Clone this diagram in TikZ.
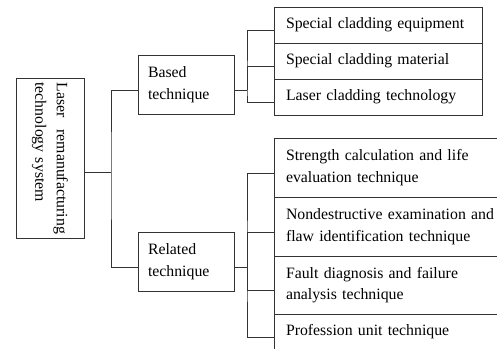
\documentclass[tikz,border=0pt]{standalone}
\usepackage{fontspec}
\setmainfont{Liberation Serif}
\usetikzlibrary{positioning}
\tikzstyle{rootbox} = [rectangle, draw=black!80, line width=1pt, outer sep=0pt, rotate=-90, minimum width=160pt, minimum height=68pt, text width=152pt, inner xsep=4pt, align=left]
\tikzstyle{midbox} = [rectangle, draw=black!80, line width=1pt, outer sep=0pt, minimum width=96pt, minimum height=59pt, text width=76pt, inner xsep=10pt, align=left]
\tikzstyle{leafbox} = [rectangle, draw=black!80, line width=1pt, outer sep=0pt, minimum width=208pt, minimum height=36pt, text width=184pt, inner xsep=12pt, align=left]
\tikzstyle{wideleaf} = [leafbox, minimum width=246pt, minimum height=59pt, text width=222pt]
\tikzstyle{line} = [draw=black!80, line width=1pt]

\begin{document}
\begin{tikzpicture}[font=\fontsize{15.8}{21.7}\selectfont]
\path[use as bounding box, clip] (0,0) rectangle (497pt,-348pt);
%树的根和两个分支
\node[rootbox] (root) at (50pt,-158.5pt) {Laser\hspace{12pt}remanufacturing\\technology system};
\node[midbox, right=54pt of root.north, yshift=74pt] (based) {Based\\technique};
\node[midbox, below=118pt of based] (related) {Related\\technique};
%叶子
\node[leafbox, right=40pt of based, yshift=59.5pt] (e1) {Special cladding equipment};
\node[leafbox, below=0pt of e1] (e2) {Special cladding material};
\node[leafbox, below=0pt of e2] (e3) {Laser cladding technology};
\node[wideleaf, below=23pt of e3.south west, anchor=north west] (f1) {Strength calculation and life\\evaluation technique};
\node[wideleaf, below=0pt of f1] (f2) {Nondestructive examination and\\flaw identification technique};
\node[wideleaf, below=0pt of f2, minimum height=58pt] (f3) {Fault diagnosis and failure\\analysis technique};
\node[wideleaf, below=0pt of f3, minimum height=36pt] (f4) {Profession unit technique};
%连线
\coordinate (busR) at ([xshift=27pt, yshift=-14pt]root.north);
\coordinate (busA) at ([xshift=13pt, yshift=-5.5pt]based.east);
\coordinate (busB) at ([xshift=13pt, yshift=-5.5pt]related.east);
\draw [line] ([yshift=-14pt]root.north) -- (busR);
\draw [line] ([yshift=-5.5pt]based.west) -| (busR) |- ([yshift=-5.5pt]related.west);
\draw [line] ([yshift=-5.5pt]based.east) -- (busA);
\draw [line] ([yshift=-5.5pt]e1.west) -| (busA) |- ([yshift=-5.5pt]e3.west);
\draw [line] ([yshift=-5.5pt]e2.west) -| (busA);
\draw [line] ([yshift=-5.5pt]related.east) -- (busB);
\draw [line] ([yshift=-5.5pt]f1.west) -| (busB) |- ([yshift=-5.5pt]f4.west);
\draw [line] ([yshift=-5.5pt]f2.west) -| (busB);
\draw [line] ([yshift=-5.5pt]f3.west) -| (busB);
\end{tikzpicture}
\end{document}
